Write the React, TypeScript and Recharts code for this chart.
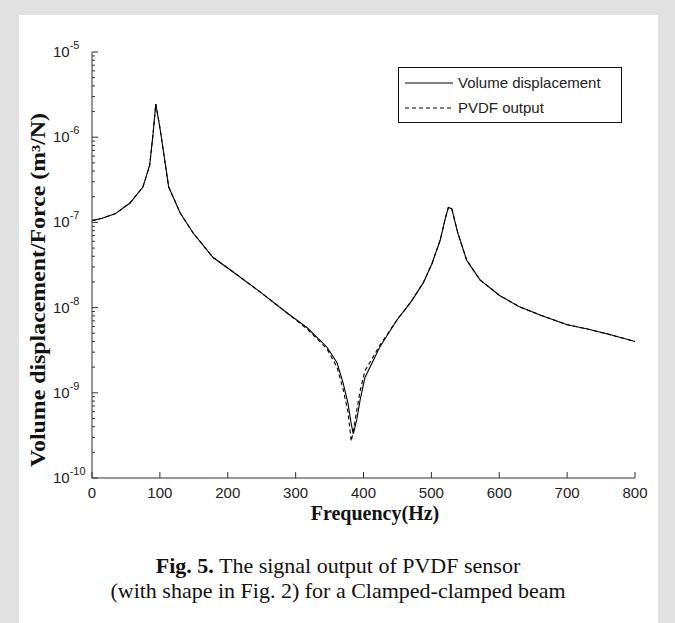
import React from 'react';
import { LineChart, Line, XAxis, YAxis } from 'recharts';

// frequency samples (Hz)
const freq = [
  0, 15, 34, 56, 75, 85, 90, 94, 100, 113, 130, 149, 178, 208, 248, 287, 317, 346, 361, 370,
  377, 382, 385, 390, 395, 402, 424, 449, 471, 488, 501, 513, 520, 525, 530, 539, 552, 572,
  601, 630, 660, 700, 730, 760, 800,
];

// volume displacement / force, m^3/N
const volumeDisp = [
  1.05e-7, 1.12e-7, 1.26e-7, 1.69e-7, 2.6e-7, 4.7e-7, 1.1e-6, 2.45e-6, 1.3e-6, 2.6e-7, 1.29e-7,
  7.5e-8, 3.9e-8, 2.62e-8, 1.52e-8, 8.7e-9, 5.8e-9, 3.45e-9, 2.25e-9, 1.3e-9, 7.6e-10, 4.3e-10,
  3.3e-10, 4.8e-10, 8.2e-10, 1.5e-9, 3.45e-9, 7.1e-9, 1.2e-8, 1.95e-8, 3.3e-8, 6.2e-8, 1.07e-7,
  1.5e-7, 1.45e-7, 7.5e-8, 3.6e-8, 2.1e-8, 1.38e-8, 1.02e-8, 8.2e-9, 6.3e-9, 5.6e-9, 4.9e-9,
  4.0e-9,
];

// PVDF sensor output, same frequencies
const pvdfOutput = [
  1.05e-7, 1.12e-7, 1.26e-7, 1.69e-7, 2.6e-7, 4.7e-7, 1.1e-6, 2.45e-6, 1.3e-6, 2.6e-7, 1.29e-7,
  7.5e-8, 3.9e-8, 2.62e-8, 1.52e-8, 8.7e-9, 5.6e-9, 3.3e-9, 2.0e-9, 1.1e-9, 6.0e-10, 2.7e-10,
  3.6e-10, 6.2e-10, 1.05e-9, 1.8e-9, 3.6e-9, 7.1e-9, 1.2e-8, 1.95e-8, 3.3e-8, 6.2e-8, 1.07e-7,
  1.5e-7, 1.45e-7, 7.5e-8, 3.6e-8, 2.1e-8, 1.38e-8, 1.02e-8, 8.2e-9, 6.3e-9, 5.6e-9, 4.9e-9,
  4.0e-9,
];

const seriesNames = ['Volume displacement', 'PVDF output'];
const xTicks = [0, 100, 200, 300, 400, 500, 600, 700, 800];
const yDecades = [1e-10, 1e-9, 1e-8, 1e-7, 1e-6, 1e-5];
const minorMultipliers = [2, 3, 4, 5, 6, 7, 8, 9];

const yTicks: number[] = [];
yDecades.forEach((d, i) => {
  yTicks.push(d);
  if (i < yDecades.length - 1) minorMultipliers.forEach((m) => yTicks.push(m * d));
});

const data = freq.map((f, i) => ({ f, vol: volumeDisp[i], pvdf: pvdfOutput[i] }));

const AXIS = '#333';
const TXT = '#222';
const SANS = '"Liberation Sans", Arial, sans-serif';
const SERIF = '"Liberation Serif", "Times New Roman", serif';

const isDecade = (v: number) => Math.abs(Math.log10(v) - Math.round(Math.log10(v))) < 1e-6;

const LeftTick = (props: any) => {
  const { x, y, payload } = props;
  const major = isDecade(payload.value);
  return (
    <g>
      <line x1={x} y1={y} x2={x + (major ? 6 : 3)} y2={y} stroke={AXIS} />
      {major && (
        <text x={x - 39} y={y + 5} fontSize={15} fill={TXT} fontFamily={SANS}>
          10
          <tspan dy={-8} fontSize={11}>
            {String(Math.round(Math.log10(payload.value)))}
          </tspan>
        </text>
      )}
    </g>
  );
};

const RightTick = (props: any) => {
  const { x, y, payload } = props;
  const major = isDecade(payload.value);
  return <line x1={x} y1={y} x2={x - (major ? 6 : 3)} y2={y} stroke={AXIS} />;
};

const BottomTick = (props: any) => {
  const { x, y, payload } = props;
  return (
    <g>
      <line x1={x} y1={y} x2={x} y2={y - 6} stroke={AXIS} />
      <text x={x} y={y + 20} textAnchor="middle" fontSize={15} fill={TXT} fontFamily={SANS}>
        {payload.value}
      </text>
    </g>
  );
};

const TopTick = (props: any) => {
  const { x, y } = props;
  return <line x1={x} y1={y} x2={x} y2={y + 6} stroke={AXIS} />;
};

const App: React.FC = () => {
  return (
    <div
      style={{
        position: 'absolute',
        left: 0,
        top: 0,
        width: 675,
        height: 623,
        background: '#e1e1e1',
        overflow: 'hidden',
      }}
    >
      <div style={{ position: 'absolute', left: 19, top: 15, width: 639, height: 608, background: '#fff' }} />
      <div style={{ position: 'absolute', left: 0, top: 0 }}>
        <LineChart width={675} height={530} data={data} margin={{ top: 52, right: 40, bottom: 22, left: 32 }}>
          <XAxis
            dataKey="f"
            type="number"
            domain={[0, 800]}
            ticks={xTicks}
            interval={0}
            height={30}
            tickSize={0}
            tickMargin={0}
            tickLine={false}
            stroke={AXIS}
            tick={<BottomTick />}
          />
          <XAxis
            xAxisId="top"
            orientation="top"
            dataKey="f"
            type="number"
            domain={[0, 800]}
            ticks={xTicks}
            interval={0}
            height={0}
            tickSize={0}
            tickMargin={0}
            tickLine={false}
            stroke={AXIS}
            tick={<TopTick />}
          />
          <YAxis
            type="number"
            scale="log"
            domain={[1e-10, 1e-5]}
            allowDataOverflow
            ticks={yTicks}
            interval={0}
            width={60}
            tickSize={0}
            tickMargin={0}
            tickLine={false}
            stroke={AXIS}
            tick={<LeftTick />}
          />
          <YAxis
            yAxisId="right"
            orientation="right"
            type="number"
            scale="log"
            domain={[1e-10, 1e-5]}
            allowDataOverflow
            ticks={yTicks}
            interval={0}
            width={0}
            tickSize={0}
            tickMargin={0}
            tickLine={false}
            stroke={AXIS}
            tick={<RightTick />}
          />
          <Line
            dataKey="vol"
            name={seriesNames[0]}
            stroke="#000"
            strokeWidth={1.1}
            dot={false}
            type="linear"
            isAnimationActive={false}
          />
          <Line
            dataKey="pvdf"
            name={seriesNames[1]}
            xAxisId="top"
            yAxisId="right"
            stroke="#000"
            strokeWidth={1.1}
            strokeDasharray="4 3"
            dot={false}
            type="linear"
            isAnimationActive={false}
          />
        </LineChart>
      </div>

      {/* legend */}
      <div
        style={{
          position: 'absolute',
          left: 398,
          top: 67,
          width: 222,
          height: 54,
          border: '1px solid #111',
          background: '#fff',
        }}
      >
        <svg width={222} height={54} style={{ position: 'absolute', left: 0, top: 0 }}>
          <line x1={6} y1={15} x2={54} y2={15} stroke="#000" strokeWidth={1.1} />
          <line x1={6} y1={40} x2={54} y2={40} stroke="#000" strokeWidth={1.1} strokeDasharray="4 3" />
          <text x={59} y={20} fontSize={15} fill={TXT} fontFamily={SANS}>
            {seriesNames[0]}
          </text>
          <text x={59} y={45} fontSize={15} fill={TXT} fontFamily={SANS}>
            {seriesNames[1]}
          </text>
        </svg>
      </div>

      {/* axis titles and caption */}
      <svg width={675} height={623} style={{ position: 'absolute', left: 0, top: 0, pointerEvents: 'none' }}>
        <text
          transform="translate(45, 290) rotate(-90)"
          textAnchor="middle"
          fontSize={20}
          fontWeight="bold"
          fontFamily={SERIF}
          fill="#111"
          textLength={354}
          lengthAdjust="spacingAndGlyphs"
        >
          Volume displacement/Force (m³/N)
        </text>
        <text x={375} y={520} textAnchor="middle" fontSize={20} fontWeight="bold" fontFamily={SERIF} fill="#111">
          Frequency(Hz)
        </text>
        <text x={338} y={573} textAnchor="middle" fontSize={22} fontFamily={SERIF} fill="#111">
          <tspan fontWeight="bold">Fig. 5.</tspan> The signal output of PVDF sensor
        </text>
        <text x={338} y={598} textAnchor="middle" fontSize={22} fontFamily={SERIF} fill="#111">
          (with shape in Fig. 2) for a Clamped-clamped beam
        </text>
      </svg>
    </div>
  );
};

export default App;
